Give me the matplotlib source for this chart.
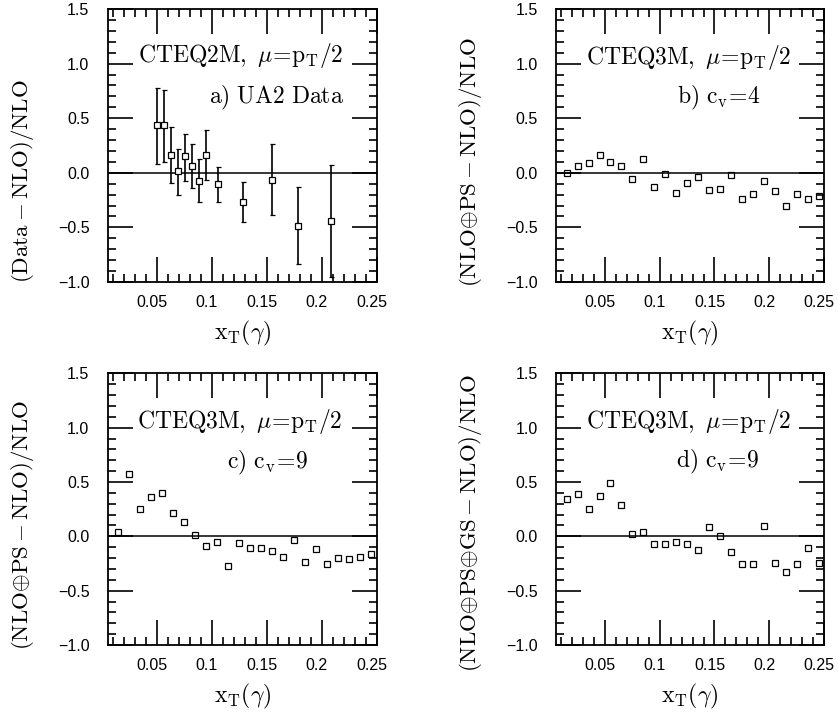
import matplotlib
matplotlib.use("Agg")
import matplotlib.pyplot as plt
from matplotlib.ticker import MultipleLocator
from matplotlib.transforms import ScaledTranslation
import numpy as np

plt.rcParams['mathtext.fontset'] = 'cm'
plt.rcParams['font.family'] = ['Liberation Sans', 'DejaVu Sans']

# ---------------- data ----------------
# panel a: UA2 data
ua2_x = [0.0498, 0.0564, 0.0628, 0.0691, 0.0758, 0.0819, 0.0885, 0.0949,
         0.1058, 0.128, 0.155, 0.178, 0.2086]
ua2_y = [0.434, 0.434, 0.159, 0.012, 0.153, 0.061, -0.071, 0.165,
         -0.107, -0.27, -0.062, -0.484, -0.444]
ua2_top = [0.78, 0.756, 0.419, 0.22, 0.352, 0.266, 0.128, 0.395,
           0.051, -0.086, 0.26, -0.132, 0.067]
ua2_bot = [0.08, 0.097, -0.095, -0.20, -0.071, -0.138, -0.27, -0.07,
           -0.27, -0.454, -0.383, -0.836, -0.952]

# panels b-d: common x_T bins
xt_bins = [0.015, 0.025, 0.035, 0.045, 0.055, 0.065, 0.075, 0.085, 0.095, 0.105,
           0.115, 0.125, 0.135, 0.145, 0.155, 0.165, 0.175, 0.185, 0.195, 0.205,
           0.215, 0.225, 0.235, 0.245]
ps_cv4 = [0.0, 0.061, 0.091, 0.162, 0.095, 0.061, -0.055, 0.122, -0.131, -0.009,
          -0.183, -0.091, -0.04, -0.162, -0.146, -0.024, -0.244, -0.198, -0.076, -0.165,
          -0.305, -0.192, -0.238, -0.213]
ps_cv9 = [0.04, 0.577, 0.248, 0.362, 0.399, 0.218, 0.132, 0.012, -0.092, -0.055,
          -0.273, -0.058, -0.104, -0.104, -0.138, -0.19, -0.031, -0.239, -0.117, -0.252,
          -0.2, -0.212, -0.19, -0.166]
psgs_cv9 = [0.344, 0.39, 0.255, 0.374, 0.491, 0.291, 0.021, 0.037, -0.067, -0.067,
            -0.055, -0.067, -0.129, 0.086, 0.0, -0.144, -0.258, -0.258, 0.092, -0.242,
            -0.331, -0.255, -0.107, -0.245]

x_tick_labels = ['0.05', '0.1', '0.15', '0.2', '0.25']
y_tick_labels = ['\u22121.0', '\u22120.5', '0.0', '0.5', '1.0', '1.5']

ylabels = [r'$\mathrm{(Data-NLO)/NLO}$',
           r'$\mathrm{(NLO}{\oplus}\mathrm{PS-NLO)/NLO}$',
           r'$\mathrm{(NLO}{\oplus}\mathrm{PS-NLO)/NLO}$',
           r'$\mathrm{(NLO}{\oplus}\mathrm{PS}{\oplus}\mathrm{GS-NLO)/NLO}$']
pdf_texts = [r'$\mathrm{CTEQ2M,\ }\mu\!=\!\mathrm{p_T/2}$',
             r'$\mathrm{CTEQ3M,\ }\mu\!=\!\mathrm{p_T/2}$',
             r'$\mathrm{CTEQ3M,\ }\mu\!=\!\mathrm{p_T/2}$',
             r'$\mathrm{CTEQ3M,\ }\mu\!=\!\mathrm{p_T/2}$']
panel_texts = [r'$\mathrm{a)\ UA2\ Data}$',
               r'$\mathrm{b)\ c_v\!=\!4}$',
               r'$\mathrm{c)\ c_v\!=\!9}$',
               r'$\mathrm{d)\ c_v\!=\!9}$']
xlabel = r'$\mathrm{x_T}(\gamma)$'

# ---------------- figure ----------------
W, H = 838, 714
fig = plt.figure(figsize=(W / 100, H / 100), dpi=100)

def px_rect(l, r, t, b):
    return [l / W, (H - b) / H, (r - l) / W, (b - t) / H]

rects = [px_rect(107.5, 376.8, 9, 282),
         px_rect(555.7, 824.0, 9, 282),
         px_rect(107.5, 376.8, 373.3, 645),
         px_rect(555.7, 824.0, 373.3, 645)]
pdf_pos = [(0.496, 0.831), (0.495, 0.824), (0.492, 0.822), (0.495, 0.822)]
panel_pos = [(0.628, 0.674), (0.607, 0.674), (0.594, 0.670), (0.603, 0.673)]
ylab_y = [-0.005, -0.02, -0.02, -0.10]

axes = [fig.add_axes(r) for r in rects]
for i, ax in enumerate(axes):
    ax.set_xlim(0.005, 0.25)
    ax.set_ylim(-1.0, 1.5)
    ax.axhline(0.0, color='black', lw=1.1, zorder=1)
    ax.xaxis.set_major_locator(MultipleLocator(0.05))
    ax.xaxis.set_minor_locator(MultipleLocator(0.01))
    ax.yaxis.set_major_locator(MultipleLocator(0.5))
    ax.yaxis.set_minor_locator(MultipleLocator(0.1))
    ax.set_xticks([0.05, 0.10, 0.15, 0.20, 0.25], x_tick_labels)
    ax.set_yticks([-1.0, -0.5, 0.0, 0.5, 1.0, 1.5], y_tick_labels)
    ax.tick_params(which='both', direction='in', top=True, right=True,
                   width=1.2, colors='black', labelsize=11.5)
    ax.tick_params(which='major', length=18)
    ax.tick_params(which='minor', length=5.8)
    ax.tick_params(axis='y', which='major', pad=13)
    ax.tick_params(axis='x', which='major', pad=9)
    for sp in ax.spines.values():
        sp.set_linewidth(1.3)
    for lab in ax.get_xticklabels():
        lab.set_transform(lab.get_transform() + ScaledTranslation(-0.05, 0, fig.dpi_scale_trans))
    ax.set_xlabel(xlabel, fontsize=17)
    ax.xaxis.set_label_coords(0.5, -0.135)
    ax.set_ylabel(ylabels[i], fontsize=16.5, ha='left', va='center')
    ax.yaxis.set_label_coords(-0.317, ylab_y[i])
    ax.text(*pdf_pos[i], pdf_texts[i], transform=ax.transAxes, ha='center',
            va='center', fontsize=17)
    ax.text(*panel_pos[i], panel_texts[i], transform=ax.transAxes, ha='center',
            va='center', fontsize=17)

# panel a with error bars
ya = np.array(ua2_y)
yerr = [ya - np.array(ua2_bot), np.array(ua2_top) - ya]
axes[0].errorbar(ua2_x, ua2_y, yerr=yerr, fmt='s', ms=5, mfc='white', mec='black',
                 mew=0.9, ecolor='black', elinewidth=1.2, capsize=1.8, capthick=1.0,
                 zorder=3)

for ax, vals in zip(axes[1:], [ps_cv4, ps_cv9, psgs_cv9]):
    ax.plot(xt_bins, vals, linestyle='none', marker='s', ms=5, mfc='none',
            mec='black', mew=0.9, zorder=3, clip_on=False)

fig.savefig('out.png', dpi=100)
